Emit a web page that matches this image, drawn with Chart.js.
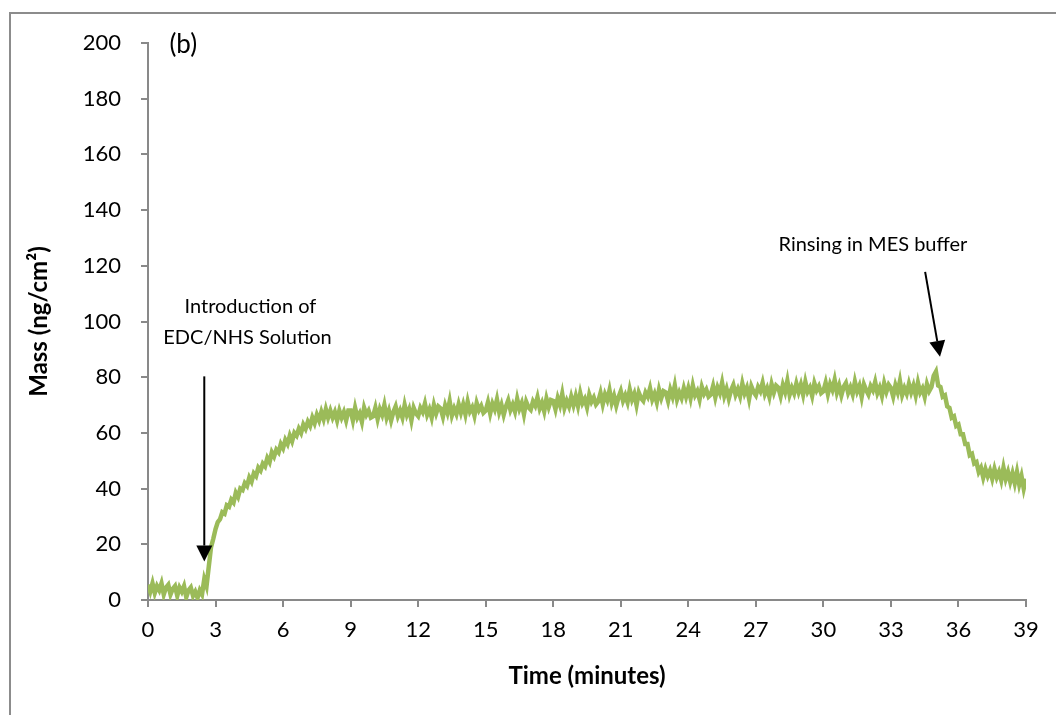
<!DOCTYPE html>
<html>
<head>
<meta charset="utf-8">
<script src="https://cdn.jsdelivr.net/npm/chart.js@4.4.0/dist/chart.umd.min.js"></script>
<style>
  html, body { margin: 0; padding: 0; background: #fff; }
  #wrap { width: 1056px; height: 715px; position: relative; }
</style>
</head>
<body>
<div id="wrap"><canvas id="c" width="1056" height="715"></canvas></div>
<script>
const sampleStep = 0.1;
const xTicks = [0, 3, 6, 9, 12, 15, 18, 21, 24, 27, 30, 33, 36, 39];
const yTicks = [0, 20, 40, 60, 80, 100, 120, 140, 160, 180, 200];

// baseline, t = 0.0 .. 2.6
const baselineStart = 0.0;
const massBaseline = [5.5, 3, 6, 2.5, 5, 3.5, 6, 2, 4.5, 5.5, 2, 4, 5, 1.5, 4.5, 3, 5, 1, 3.5, 4.5, 1.5, 3, 0.8, 3.5, 2, 7.5, 5];

// EDC/NHS uptake, t = 2.7 .. 8.9
const riseStart = 2.7;
const massRise = [12, 19, 22, 25.5, 28, 29, 31.5, 31, 34, 33.5,
  36, 35, 38.5, 37, 40, 39.5, 42, 41, 44, 42.5,
  45.5, 44.5, 47.5, 46.5, 49, 48, 51, 49.5, 53, 51.5,
  54, 53, 56, 54.5, 57.5, 56, 59, 57, 60, 59,
  61.5, 60, 63, 61.5, 64, 62.5, 65.5, 63.5, 66.5, 64.5,
  67.5, 65, 68.5, 65.5, 68, 65.5, 67.5, 64.5, 68, 65.5,
  67.5, 64.5, 68];

// slow plateau, t = 9.0 .. 35.2
const plateauStart = 9.0;
const massPlateau = [
  68, 64.5, 69, 65.5, 67, 64, 69, 66.5, 68, 65.5,
  66, 69, 65, 68.5, 66.5, 70, 65.5, 68, 64.5, 67.5,
  69.5, 66, 68, 65.5, 70, 66.5, 68.5, 64.5, 69, 67,
  66, 69, 67.5, 70.5, 66.5, 68.5, 65.5, 70, 67, 69.5,
  68.8, 65.8, 69.8, 67.3, 71.3, 66.3, 68.8, 66.8, 70.3, 67.3,
  70.2, 66.7, 71.2, 67.7, 69.2, 66.2, 70.7, 68.2, 69.7, 67.2,
  68, 71, 67, 70.5, 68.5, 72, 67.5, 70, 66.5, 69.5,
  71.7, 68.2, 70.2, 67.7, 72.2, 68.7, 70.7, 66.7, 71.2, 69.2,
  68.3, 71.3, 69.8, 72.8, 68.8, 70.8, 67.8, 72.3, 69.3, 71.8,
  71.5, 68.5, 72.5, 70, 74, 69, 71.5, 69.5, 73, 70,
  73.2, 69.7, 74.2, 70.7, 72.2, 69.2, 73.7, 71.2, 72.7, 70.2,
  71.3, 74.3, 70.3, 73.8, 71.8, 75.3, 70.8, 73.3, 69.8, 72.8,
  75, 71.5, 73.5, 71, 75.5, 72, 74, 70, 74.5, 72.5,
  71.5, 74.5, 73, 76, 72, 74, 71, 75.5, 72.5, 75,
  74.5, 71.5, 75.5, 73, 77, 72, 74.5, 72.5, 76, 73,
  76, 72.5, 77, 73.5, 75, 72, 76.5, 74, 75.5, 73,
  73.8, 76.8, 72.8, 76.3, 74.3, 78, 73.3, 75.8, 72.3, 75.3,
  77.2, 73.7, 75.7, 73.2, 77.7, 74.2, 76.2, 72.2, 76.7, 74.7,
  73.5, 76.5, 75, 78, 74, 76, 73, 77.5, 74.5, 77,
  76.2, 73.2, 77.2, 74.7, 78.7, 73.7, 76.2, 74.2, 77.7, 74.7,
  77.3, 73.8, 78.3, 74.8, 76.3, 73.3, 77.8, 75.3, 76.8, 74.3,
  75, 78, 74, 77.5, 75.5, 79, 74.5, 77, 73.5, 76.5,
  77.9, 74.4, 76.4, 73.9, 78.4, 74.9, 76.9, 72.9, 77.4, 75.4,
  73.8, 76.8, 75.3, 78.3, 74.3, 76.3, 73.3, 77.8, 74.8, 77.3,
  76.1, 73.1, 77.1, 74.6, 78.6, 73.6, 76.1, 74.1, 77.6, 74.6,
  77, 73.5, 78, 74.5, 76, 73, 77.5, 75, 76.5, 80.5,
  82, 77, 76.5];

// rinsing in MES buffer, t = 35.3 .. 39.0
const rinseStart = 35.3;
const massRinse = [73, 73.5, 69.5, 69, 65.5, 66, 62.5, 63, 59.5, 59.5,
  56, 56, 52, 52.5, 49, 49.5, 46, 47.5, 44, 47,
  44.5, 46.5, 43.5, 47, 44, 46, 43, 47.5, 43.5, 46,
  42.5, 45.5, 42, 46, 41.5, 44.5, 40, 43.5];

// ---- build points ----
function seg(start, arr) {
  return arr.map((v, i) => ({ x: +(start + i * sampleStep).toFixed(2), y: v }));
}
const points = [].concat(
  seg(baselineStart, massBaseline),
  seg(riseStart, massRise),
  seg(plateauStart, massPlateau),
  seg(rinseStart, massRinse)
);

const FONT = 'Lato, "Open Sans", "Liberation Sans", sans-serif';
const AXIS = '#898989';

const decor = {
  id: 'decor',
  beforeDraw(chart) {
    const ctx = chart.ctx;
    ctx.save();
    ctx.fillStyle = '#fff';
    ctx.fillRect(0, 0, chart.width, chart.height);
    ctx.strokeStyle = '#8c8c8c';
    ctx.lineWidth = 2;
    ctx.strokeRect(10, 13, 1200, 900);
    ctx.restore();
  },
  afterDraw(chart) {
    const ctx = chart.ctx;
    const xs = chart.scales.x, ys = chart.scales.y;
    const X = v => xs.getPixelForValue(v), Y = v => ys.getPixelForValue(v);
    ctx.save();
    ctx.fillStyle = '#000';
    // axis titles
    ctx.font = 'bold 24px ' + FONT;
    ctx.textAlign = 'center';
    ctx.textBaseline = 'middle';
    ctx.fillText('Time (minutes)', (xs.left + xs.right) / 2, 676);
    ctx.save();
    ctx.translate(39, (ys.top + ys.bottom) / 2);
    ctx.rotate(-Math.PI / 2);
    ctx.fillText('Mass (ng/cm\u00B2)', 0, 0);
    ctx.restore();
    // panel label
    ctx.font = '26px ' + FONT;
    ctx.textAlign = 'left';
    ctx.fillText('(b)', X(0.95), Y(199.3));
    // annotations
    ctx.font = '20px ' + FONT;
    ctx.textAlign = 'center';
    ctx.fillText('Introduction of', X(4.55), Y(105.2));
    ctx.fillText('EDC/NHS Solution', X(4.42), Y(94.4));
    ctx.fillText('Rinsing in MES buffer', X(32.2), Y(127.6));
    // arrows
    function arrow(x1, y1, x2, y2) {
      const ang = Math.atan2(y2 - y1, x2 - x1);
      const hl = 16, hw = 8;
      const bx = x2 - hl * Math.cos(ang), by = y2 - hl * Math.sin(ang);
      ctx.strokeStyle = '#000';
      ctx.lineWidth = 2;
      ctx.beginPath();
      ctx.moveTo(x1, y1);
      ctx.lineTo(bx, by);
      ctx.stroke();
      ctx.beginPath();
      ctx.moveTo(x2, y2);
      ctx.lineTo(bx + hw * Math.sin(ang), by - hw * Math.cos(ang));
      ctx.lineTo(bx - hw * Math.sin(ang), by + hw * Math.cos(ang));
      ctx.closePath();
      ctx.fill();
    }
    arrow(X(2.5), Y(80.3), X(2.5), Y(13.8));
    arrow(X(34.52), Y(117.8), X(35.18), Y(87.3));
    ctx.restore();
  }
};

new Chart(document.getElementById('c'), {
  type: 'line',
  data: {
    datasets: [{
      data: points,
      borderColor: '#9BBB59',
      borderWidth: 4.5,
      pointRadius: 0,
      tension: 0,
      fill: false
    }]
  },
  options: {
    responsive: false,
    animation: false,
    devicePixelRatio: 1,
    layout: { padding: { left: 0, right: 30, top: 43, bottom: 0 } },
    plugins: { legend: { display: false }, tooltip: { enabled: false } },
    scales: {
      x: {
        type: 'linear',
        min: 0, max: 39,
        afterBuildTicks: s => { s.ticks = xTicks.map(v => ({ value: v })); },
        afterFit: s => { s.height = 115; },
        grid: { display: true, drawOnChartArea: false, drawTicks: true, tickLength: 7, color: AXIS, lineWidth: 2 },
        border: { display: true, color: AXIS, width: 2 },
        ticks: { color: '#000', font: { family: FONT, size: 22 }, padding: 10, maxRotation: 0, autoSkip: false }
      },
      y: {
        type: 'linear',
        min: 0, max: 200,
        afterBuildTicks: s => { s.ticks = yTicks.map(v => ({ value: v })); },
        afterFit: s => { s.width = 148; },
        grid: { display: true, drawOnChartArea: false, drawTicks: true, tickLength: 7, color: AXIS, lineWidth: 2 },
        border: { display: true, color: AXIS, width: 2 },
        ticks: { color: '#000', font: { family: FONT, size: 22 }, padding: 20 }
      }
    }
  },
  plugins: [decor]
});
</script>
</body>
</html>
